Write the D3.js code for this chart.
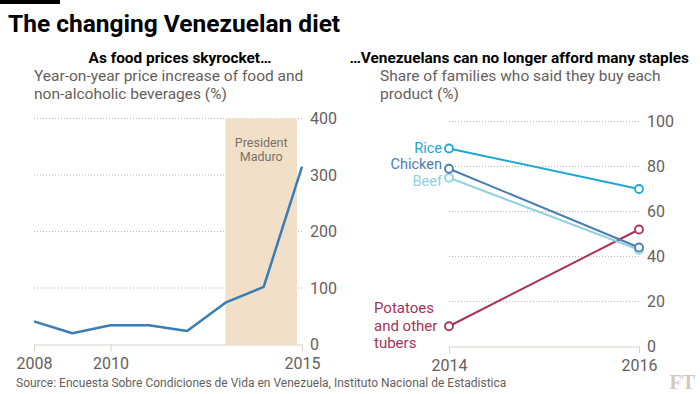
<!DOCTYPE html>
<html>
<head>
<meta charset="utf-8">
<script src="https://cdnjs.cloudflare.com/ajax/libs/d3/7.8.5/d3.min.js"></script>
<style>
  body { margin: 0; background: #fff; }
  svg text { font-family: Roboto, "Open Sans", sans-serif; }
</style>
</head>
<body>
<div id="container"></div>
<script>
var WIDTH = 700;
var HEIGHT = 394;

// left chart: food price inflation
const priceYears = [2008, 2009, 2010, 2011, 2012, 2013, 2014, 2015];
const priceValues = [41, 20, 34, 34, 24, 74, 102, 315];
const priceTicks = [0, 100, 200, 300, 400];
const priceYearTicks = [2008, 2010, 2015];
const maduroSpan = [2013, 2014.87];

// right chart: share of families buying each product
const surveyYears = [2014, 2016];
const products = ['Rice', 'Chicken', 'Beef', 'Potatoes and other tubers'];
const rice = [88, 70];
const chicken = [79, 44];
const beef = [75, 43];
const potatoes = [9, 52];
const shareTicks = [0, 20, 40, 60, 80, 100];

const GREY = '#66605c';
const GRID = '#bdb6ae';
const AXIS = '#d9d0c6';

const svg = d3.select('#container')
  .append('svg')
    .attr('width', WIDTH)
    .attr('height', HEIGHT);

// header
svg.append('rect').attr('x', 0).attr('y', 0).attr('width', 60).attr('height', 4).attr('fill', '#000');

svg.append('text')
   .attr('x', 8).attr('y', 32)
   .attr('font-size', 24.5).attr('font-weight', 'bold').attr('fill', '#000')
   .text('The changing Venezuelan diet');

svg.append('text')
   .attr('x', 180).attr('y', 63).attr('text-anchor', 'middle')
   .attr('font-size', 15.4).attr('font-weight', 'bold').attr('fill', '#000')
   .text('As food prices skyrocket…');

svg.append('text')
   .attr('x', 689).attr('y', 63).attr('text-anchor', 'end')
   .attr('font-size', 15.4).attr('font-weight', 'bold').attr('fill', '#000')
   .text('…Venezuelans can no longer afford many staples');

function subtitle(x, lines) {
  svg.append('g').selectAll('text')
     .data(lines).enter()
     .append('text')
       .attr('x', x).attr('y', (d, i) => 81 + i * 18)
       .attr('font-size', 15.5).attr('fill', GREY)
       .text(d => d);
}
subtitle(34, ['Year-on-year price increase of food and', 'non-alcoholic beverages (%)']);
subtitle(380, ['Share of families who said they buy each', 'product (%)']);

// ---------- left chart ----------
const xL = d3.scaleLinear().domain([2008, 2015]).range([34, 302]);
const yL = d3.scaleLinear().domain([0, 400]).range([344.5, 118.5]);

const left = svg.append('g');

left.append('g').selectAll('line')
    .data(priceTicks.filter(d => d > 0)).enter()
    .append('line')
      .attr('x1', xL(2008)).attr('x2', xL(2015))
      .attr('y1', d => yL(d)).attr('y2', d => yL(d))
      .attr('stroke', GRID).attr('stroke-width', 1)
      .attr('stroke-dasharray', '1,2');

left.append('rect')
    .attr('x', xL(maduroSpan[0]))
    .attr('width', xL(maduroSpan[1]) - xL(maduroSpan[0]))
    .attr('y', yL(400))
    .attr('height', yL(0) - yL(400))
    .attr('fill', '#f2dfc7');

left.append('g').selectAll('text')
    .data(['President', 'Maduro']).enter()
    .append('text')
      .attr('x', (xL(maduroSpan[0]) + xL(maduroSpan[1])) / 2)
      .attr('y', (d, i) => 147 + i * 14)
      .attr('text-anchor', 'middle')
      .attr('font-size', 12.5).attr('fill', '#7a716a')
      .text(d => d);

const yAxisL = left.append('g')
    .attr('transform', `translate(${xL(2015)},0)`)
    .call(d3.axisRight(yL).tickValues(priceTicks).tickSize(0).tickPadding(8));
yAxisL.select('.domain').remove();
yAxisL.selectAll('text').attr('font-size', 16).attr('fill', GREY).attr('font-family', 'Roboto');

const xAxisL = left.append('g')
    .attr('transform', `translate(0,${yL(0)})`)
    .call(d3.axisBottom(xL).tickValues(priceYearTicks).tickFormat(d3.format('d')).tickSize(7).tickSizeOuter(0).tickPadding(6));
xAxisL.select('.domain').attr('stroke', AXIS);
xAxisL.selectAll('line').attr('stroke', AXIS);
xAxisL.selectAll('text').attr('font-size', 16).attr('fill', GREY).attr('font-family', 'Roboto');

left.append('path')
    .datum(priceYears.map((y, i) => [y, priceValues[i]]))
    .attr('fill', 'none')
    .attr('stroke', '#3a7db5')
    .attr('stroke-width', 2.5)
    .attr('stroke-linejoin', 'round')
    .attr('d', d3.line().x(d => xL(d[0])).y(d => yL(d[1])));

// ---------- right chart ----------
const xR = d3.scaleLinear().domain([2014, 2016]).range([449, 639]);
const yR = d3.scaleLinear().domain([0, 100]).range([346.5, 121.5]);

const right = svg.append('g');

right.append('g').selectAll('line')
    .data(shareTicks.filter(d => d > 0)).enter()
    .append('line')
      .attr('x1', xR(2014)).attr('x2', xR(2016))
      .attr('y1', d => yR(d)).attr('y2', d => yR(d))
      .attr('stroke', GRID).attr('stroke-width', 1)
      .attr('stroke-dasharray', '1,2');

const yAxisR = right.append('g')
    .attr('transform', `translate(${xR(2016)},0)`)
    .call(d3.axisRight(yR).tickValues(shareTicks).tickSize(0).tickPadding(8));
yAxisR.select('.domain').remove();
yAxisR.selectAll('text').attr('font-size', 16).attr('fill', GREY).attr('font-family', 'Roboto');

const xAxisR = right.append('g')
    .attr('transform', `translate(0,${yR(0)})`)
    .call(d3.axisBottom(xR).tickValues(surveyYears).tickFormat(d3.format('d')).tickSize(7).tickSizeOuter(0).tickPadding(6));
xAxisR.select('.domain').attr('stroke', AXIS);
xAxisR.selectAll('line').attr('stroke', AXIS);
xAxisR.selectAll('text').attr('font-size', 16).attr('fill', GREY).attr('font-family', 'Roboto');

const series = [
  { name: 'Potatoes and other tubers', values: potatoes, color: '#a8325a' },
  { name: 'Beef', values: beef, color: '#92d1df' },
  { name: 'Chicken', values: chicken, color: '#4a7db0' },
  { name: 'Rice', values: rice, color: '#1fa5d9' }
];

series.forEach(s => {
  const pts = surveyYears.map((y, i) => [xR(y), yR(s.values[i])]);
  right.append('line')
       .attr('x1', pts[0][0]).attr('y1', pts[0][1])
       .attr('x2', pts[1][0]).attr('y2', pts[1][1])
       .attr('stroke', s.color).attr('stroke-width', 2);
  right.selectAll(null)
       .data(pts).enter()
       .append('circle')
         .attr('cx', d => d[0]).attr('cy', d => d[1])
         .attr('r', 4)
         .attr('fill', '#fff')
         .attr('stroke', s.color).attr('stroke-width', 1.8);
});

// series labels
const labelX = xR(2014) - 7;
right.append('text').attr('x', labelX).attr('y', yR(rice[0]) + 4).attr('text-anchor', 'end')
     .attr('font-size', 14.5).attr('fill', '#1fa5d9').text(products[0]);
right.append('text').attr('x', labelX).attr('y', yR(chicken[0])).attr('text-anchor', 'end')
     .attr('font-size', 14.5).attr('fill', '#4a7db0').text(products[1]);
right.append('text').attr('x', labelX).attr('y', yR(beef[0]) + 8).attr('text-anchor', 'end')
     .attr('font-size', 14.5).attr('fill', '#92d1df').text(products[2]);
right.append('g').selectAll('text')
     .data(['Potatoes', 'and other', 'tubers']).enter()
     .append('text')
       .attr('x', 374).attr('y', (d, i) => yR(potatoes[0]) - 13 + i * 17.5)
       .attr('font-size', 15).attr('fill', '#a8325a')
       .text(d => d);

// footer
svg.append('text')
   .attr('x', 16).attr('y', 387)
   .attr('font-size', 12).attr('fill', GREY)
   .text('Source: Encuesta Sobre Condiciones de Vida en Venezuela, Instituto Nacional de Estadistica');

svg.append('text')
   .attr('x', 695).attr('y', 389).attr('text-anchor', 'end')
   .attr('font-size', 20).attr('font-weight', 'bold').attr('fill', '#d3c9bf')
   .style('font-family', '"Liberation Serif", serif')
   .text('FT');
</script>
</body>
</html>
